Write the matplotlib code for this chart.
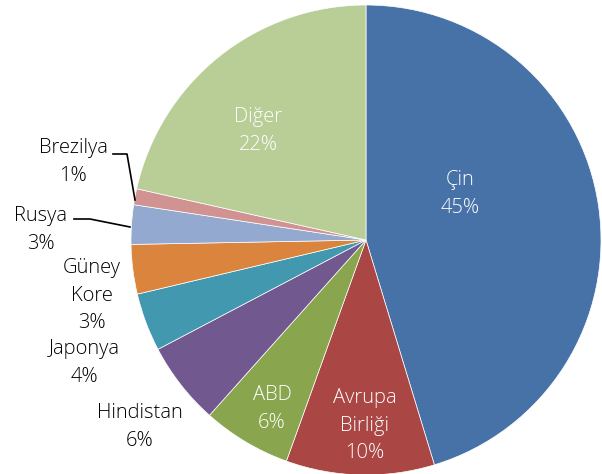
import matplotlib
matplotlib.use("Agg")
import matplotlib.pyplot as plt

# data
countries = ["Çin", "Avrupa\nBirliği", "ABD", "Hindistan", "Japonya",
             "Güney\nKore", "Rusya", "Brezilya", "Diğer"]
shares = [45.3, 10.2, 6.1, 5.7, 4.0, 3.4, 2.7, 1.1, 21.5]
pct_labels = ["45%", "10%", "6%", "6%", "4%", "3%", "3%", "1%", "22%"]
colors = ["#4672A8", "#AA4644", "#89A54E", "#71588F", "#4198AF",
          "#DB843D", "#93A9CF", "#D19392", "#B9CD96"]

plt.rcParams['font.family'] = ['Open Sans', 'DejaVu Sans']

W, H = 602, 474
fig = plt.figure(figsize=(W / 100, H / 100), dpi=100)
ax = fig.add_axes([0, 0, 1, 1])

cx, cy, r = 366, H - 240, 235
ax.pie(shares, colors=colors, startangle=90, counterclock=False,
       center=(cx, cy), radius=r, frame=True,
       wedgeprops=dict(edgecolor="white", linewidth=0.5))
ax.set_xlim(0, W)
ax.set_ylim(0, H)
ax.set_aspect("equal")
ax.axis("off")

# label anchor points (pixel coords from top-left) and text colour
label_pos = [(460, 194, "white"), (365, 426, "white"), (272, 409, "white"),
             (140, 427, "black"), (84, 363, "black"), (92, 296, "black"),
             (41, 230, "black"), (73, 162, "black"), (258, 131, "white")]

for name, pct, (x, y, c) in zip(countries, pct_labels, label_pos):
    ax.text(x, H - y, name + "\n" + pct, ha="center", va="center",
            color=c, fontsize=14.5, fontweight="light", linespacing=1.5)

# leader lines for the two thin slices
ax.plot([113, 127, 135], [H - 154, H - 154, H - 200], color="black", lw=1.2)
ax.plot([74, 90, 130], [H - 219, H - 219, H - 227], color="black", lw=1.2)

fig.savefig("out.png", dpi=100)
